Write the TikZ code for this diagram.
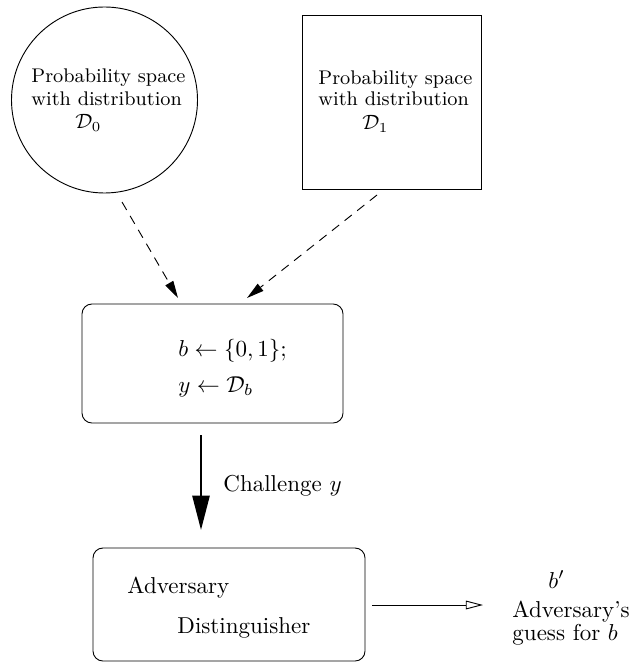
\documentclass[tikz,border=0pt]{standalone}
\usetikzlibrary{arrows.meta,calc}
\def\pxu{0.4348pt}
\begin{document}
\begin{tikzpicture}[x=\pxu,y=-\pxu,
  shapeline/.style={draw,line width=0.4pt,inner sep=0pt,outer sep=0pt},
  smalltxt/.style={anchor=base west,inner sep=0pt,font=\fontsize{8.6}{10}\selectfont},
  txt/.style={anchor=base west,inner sep=0pt},
  rbox/.style={shapeline,rectangle,rounded corners=4.3pt},
  dasharrow/.style={dash pattern=on 4pt off 3pt,line width=0.4pt,-{Triangle[length=7.5pt,width=3.9pt]}},
  challarrow/.style={line width=0.9pt,-{Triangle[length=15pt,width=7.5pt]}},
  outarrow/.style={line width=0.4pt,-{Triangle[open,length=7.5pt,width=3.8pt]}}]
\useasboundingbox (0,0) rectangle (634,662);
% probability spaces
\node[shapeline,circle,minimum size=186*\pxu] (circ) at (104.5,100) {};
\node[smalltxt] (c1) at (31,83) {Probability space};
\node[smalltxt] (c2) at (31,106) {with distribution};
\node[smalltxt] (c3) at (75,129) {$\mathcal{D}_0$};
\node[shapeline,rectangle,minimum width=179*\pxu,minimum height=174*\pxu] (sq) at (391.5,102) {};
\node[smalltxt] (s1) at (318,85) {Probability space};
\node[smalltxt] (s2) at (318,106) {with distribution};
\node[smalltxt] (s3) at (362,130) {$\mathcal{D}_1$};
% challenger box
\node[rbox,minimum width=261*\pxu,minimum height=119*\pxu] (box1) at (212.5,363.5) {};
\node[txt] (b1) at (178,356) {$b \leftarrow \{0,1\};$};
\node[txt] (b2) at (178,392) {$y \leftarrow \mathcal{D}_b$};
% adversary box
\node[rbox,minimum width=272*\pxu,minimum height=113*\pxu] (box2) at (229,604.5) {};
\node[txt] (a1) at (127,593) {Adversary};
\node[txt] (a2) at (177,633) {Distinguisher};
% labels
\node[txt] (ch) at (223,491) {Challenge $y$};
\node[txt] (bp) at (548,588) {$b'$};
\node[txt] (g1) at (512,617) {Adversary's};
\node[txt] (g2) at (512,640) {guess for $b$};
% connector ends
\coordinate (d1s) at (122,202);
\coordinate (d1e) at (178,298);
\coordinate (d2s) at (377,195);
\coordinate (d2e) at (247,298);
\coordinate (cs) at (201,435);
\coordinate (ce) at (201,530);
\coordinate (os) at (372,605);
\coordinate (oe) at (483,605);
\draw[dasharrow] (d1s) -- (d1e);
\draw[dasharrow] (d2s) -- (d2e);
\draw[challarrow] (cs) -- (ce);
\draw[outarrow] (os) -- (oe);
\end{tikzpicture}
\end{document}
